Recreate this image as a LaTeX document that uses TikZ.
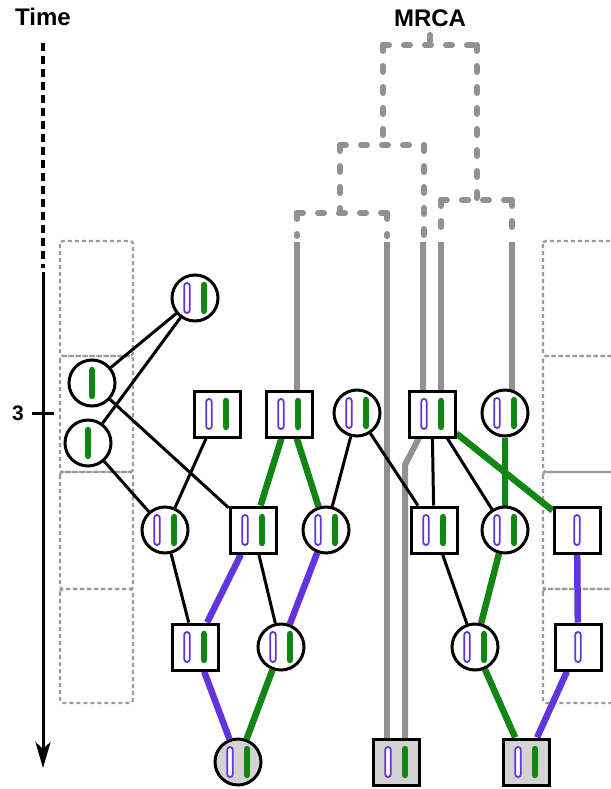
\documentclass[tikz,border=0pt]{standalone}
\usepackage{fontspec}
\setmainfont{Liberation Sans}
\usetikzlibrary{arrows.meta,backgrounds}
\definecolor{pur}{RGB}{98,52,222}
\definecolor{grn}{RGB}{18,134,18}
\definecolor{gline}{RGB}{145,145,145}
\definecolor{gbox}{RGB}{155,155,155}
\definecolor{gfill}{RGB}{211,211,211}
\newcommand\pbarat[2]{\begin{scope}[shift={(#1)}]\draw[pur,line width=1.8pt,rounded corners=2.8pt,fill=white] ({#2-2.8},-15) rectangle ({#2+2.8},15);\end{scope}}
\newcommand\gbarat[2]{\begin{scope}[shift={(#1)}]\draw[grn,line width=6.5pt,line cap=round] (#2,-13) -- (#2,13);\end{scope}}
\newcommand\bothbars[1]{\pbarat{#1}{-8}\gbarat{#1}{9}}
\tikzset{
  cn/.style={circle,draw,line width=3pt,minimum size=46pt,inner sep=0pt,fill=white},
  sn/.style={rectangle,draw,line width=3pt,minimum size=46pt,inner sep=0pt,fill=white},
  gf/.style={fill=gfill},
  bl/.style={black,line width=3pt},
  ge/.style={grn,line width=6.5pt},
  pe/.style={pur,line width=6.5pt},
  mrca/.style={gline,line width=6pt,dash pattern=on 6pt off 15pt,line cap=round},
  gl/.style={gline,line width=6pt},
  dbox/.style={gbox,line width=2.3pt,dash pattern=on 4pt off 3pt,rounded corners=3pt},
  lab/.style={font=\bfseries\fontsize{24}{28}\selectfont,inner sep=0pt}
}
\begin{document}
\begin{tikzpicture}[x=1pt,y=-1pt]
\useasboundingbox (0,0) rectangle (610,789);
% labels
\node[lab] (time) at (43,17) {Time};
\node[lab] (mrcalab) at (430,18) {MRCA};
\node[font=\bfseries\fontsize{21}{24}\selectfont,inner sep=0pt] (three) at (18,413) {3};
% nodes
\node[cn] (T) at (195,298) {};
\node[cn] (L1) at (92,383) {};
\node[cn] (L2) at (88,443) {};
\node[sn] (C1) at (217,414) {};
\node[sn] (C2) at (289,414) {};
\node[cn] (C3) at (357,413) {};
\node[sn] (C4) at (432,414) {};
\node[cn] (C5) at (505,413) {};
\node[cn] (D1) at (165,530) {};
\node[sn] (D2) at (253,530) {};
\node[cn] (D3) at (326,530) {};
\node[sn] (D4) at (434,530) {};
\node[cn] (D5) at (505,530) {};
\node[sn] (D6) at (577,530) {};
\node[sn] (E1) at (195,647) {};
\node[cn] (E2) at (281,647) {};
\node[cn] (E3) at (475,647) {};
\node[sn] (E4) at (578,647) {};
\node[cn,gf] (F1) at (238,762) {};
\node[sn,gf] (F2) at (396,762) {};
\node[sn,gf] (F3) at (526,762) {};
% time axis
\coordinate (ta) at (43,43);
\coordinate (tb) at (43,268);
\coordinate (tc) at (43,272);
\coordinate (td) at (43,768);
\draw[line width=3.2pt,dash pattern=on 8pt off 5pt] (ta) -- (tb);
\draw[line width=3pt,-{Stealth[length=26pt,width=15pt,inset=7pt]}] (tc) -- (td);
\coordinate (tk1) at (32,413);
\coordinate (tk2) at (54,413);
\draw[line width=3pt] (tk1) -- (tk2);
\begin{scope}[on background layer]
% dashed boxes
\foreach \a/\b in {241/356,356/472,472/589,589/703}{
  \draw[dbox] (60,\a) rectangle (133,\b);
  \draw[dbox] (543,\a) rectangle (640,\b);
}
% MRCA tree
\draw[mrca] (430,35) -- (430,45);
\draw[mrca] (383,45) -- (477,45);
\draw[mrca] (383,45) -- (383,145);
\draw[mrca] (477,45) -- (477,200);
\draw[mrca] (340,145) -- (424,145);
\draw[mrca] (424,145) -- (424,236);
\draw[mrca] (340,145) -- (340,213);
\draw[mrca] (297,213) -- (387,213);
\draw[mrca] (297,213) -- (297,236);
\draw[mrca] (387,213) -- (387,236);
\draw[mrca] (441,200) -- (512,200);
\draw[mrca] (441,200) -- (441,236);
\draw[mrca] (512,200) -- (512,236);
% solid grey lineages
\draw[gl] (297,242) -- (297,414);
\draw[gl] (387,242) -- (387,762);
\draw[gl] (423,242) -- (423,430) -- (405,465) -- (405,762);
\draw[gl] (441,242) -- (441,414);
\draw[gl] (512,242) -- (512,413);
% edges
\draw[bl] (T) -- (L1);
\draw[bl] (T) -- (L2);
\draw[bl] (L1) -- (D2);
\draw[bl] (L2) -- (D1);
\draw[bl] (C1) -- (D1);
\draw[bl] (D1) -- (E1);
\draw[bl] (D2) -- (E2);
\draw[bl] (C3) -- (D3);
\draw[bl] (C3) -- (D4);
\draw[bl] (C4) -- (D4);
\draw[bl] (C4) -- (D5);
\draw[bl] (D4) -- (E3);
\draw[ge] (C2) -- (D2);
\draw[ge] (C2) -- (D3);
\draw[ge] (C4) -- (D6);
\draw[ge] (C5) -- (D5);
\draw[ge] (E2) -- (F1);
\draw[ge] (D5) -- (E3);
\draw[ge] (E3) -- (F3);
\draw[pe] (D2) -- (E1);
\draw[pe] (D3) -- (E2);
\draw[pe] (E1) -- (F1);
\draw[pe] (D6) -- (E4);
\draw[pe] (E4) -- (F3);
\end{scope}
% bars
\foreach \n in {T,C1,C2,C3,C4,C5,D1,D2,D3,D4,D5,E1,E2,E3,F1,F2,F3}{\bothbars{\n}}
\gbarat{L1}{0}
\gbarat{L2}{0}
\pbarat{D6}{0}
\pbarat{E4}{0}
\end{tikzpicture}
\end{document}
